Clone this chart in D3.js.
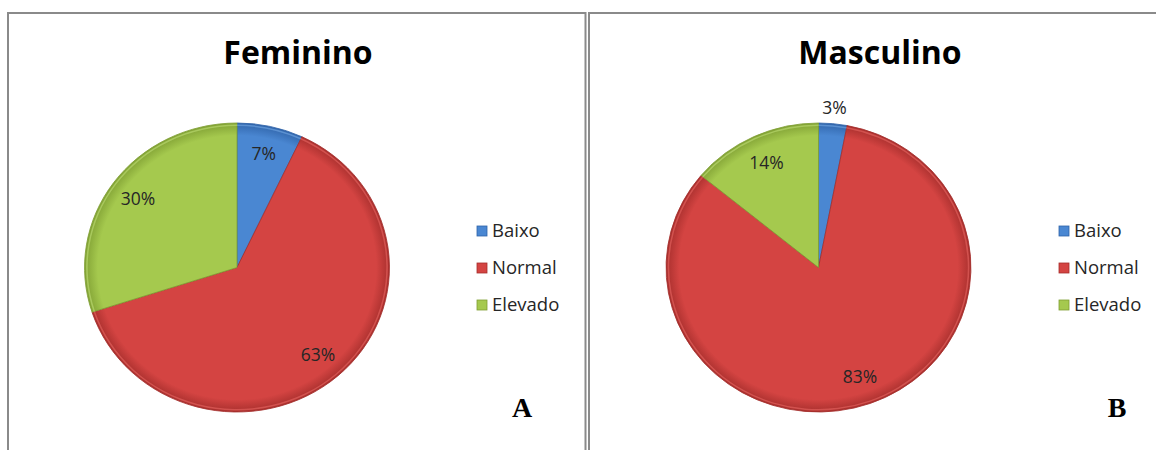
<!DOCTYPE html>
<html>
<head>
<meta charset="utf-8">
<script src="https://cdn.jsdelivr.net/npm/d3@7"></script>
<style>
  body { margin: 0; background: #fff; }
  svg { display: block; }
</style>
</head>
<body>
<div id="chart"></div>
<script>
const categories = ["Baixo", "Normal", "Elevado"];
const femininoValues = [7, 63, 30];
const masculinoValues = [3, 83, 14];
const panelTitles = ["Feminino", "Masculino"];
const panelLetters = ["A", "B"];

const colors = {
    Baixo: { light: "#7aaeea", base: "#4a87d2", dark: "#2f63a8" },
    Normal: { light: "#ec6a66", base: "#d44442", dark: "#a52e2c" },
    Elevado: { light: "#c2e27a", base: "#a5c94e", dark: "#7f9f33" }
};

const W = 1156, H = 450;
const svg = d3.select("#chart").append("svg")
    .attr("width", W)
    .attr("height", H);

const defs = svg.append("defs");
categories.forEach(c => {
    const g = defs.append("radialGradient")
        .attr("id", "grad-" + c)
        .attr("gradientUnits", "userSpaceOnUse")
        .attr("cx", 0).attr("cy", 0).attr("r", 150);
    g.append("stop").attr("offset", "0%").attr("stop-color", colors[c].base);
    g.append("stop").attr("offset", "88%").attr("stop-color", colors[c].base);
    g.append("stop").attr("offset", "97%").attr("stop-color", colors[c].dark);
    g.append("stop").attr("offset", "100%").attr("stop-color", colors[c].dark);
});

// panel frames
svg.append("path")
    .attr("d", "M8,455 V13 H585.5 V455")
    .attr("fill", "none").attr("stroke", "#8a8a8a").attr("stroke-width", 2);
svg.append("path")
    .attr("d", "M589,455 V13 H1160")
    .attr("fill", "none").attr("stroke", "#8a8a8a").attr("stroke-width", 2);

const panels = [
    { values: femininoValues, cx: 237, cy: 267.5, titleX: 298, legendX: 477, letterX: 522 },
    { values: masculinoValues, cx: 818.5, cy: 267.5, titleX: 880, legendX: 1059, letterX: 1117 }
];

const radius = 144.5;
const sx = 1.055; // slight horizontal stretch seen in the reference

const pie = d3.pie().sort(null).value(d => d.value);
const arc = d3.arc().innerRadius(0).outerRadius(radius);
const rimArc = d3.arc().innerRadius(radius - 3).outerRadius(radius - 1.5);

panels.forEach((p, i) => {
    const data = categories.map((c, j) => ({ key: c, value: p.values[j] }));
    const total = d3.sum(data, d => d.value);
    const arcs = pie(data);

    const g = svg.append("g");

    g.append("text")
        .attr("x", p.titleX)
        .attr("y", 64)
        .attr("text-anchor", "middle")
        .style("font-family", "'Open Sans', sans-serif")
        .style("font-weight", "bold")
        .style("font-size", "32px")
        .attr("fill", "#000")
        .text(panelTitles[i]);

    const pieG = g.append("g")
        .attr("transform", "translate(" + p.cx + "," + p.cy + ") scale(" + sx + ",1)");

    pieG.selectAll("path.slice")
        .data(arcs)
        .enter()
        .append("path")
        .attr("class", "slice")
        .attr("d", arc)
        .attr("fill", d => "url(#grad-" + d.data.key + ")")
        .attr("stroke", d => colors[d.data.key].dark)
        .attr("stroke-width", 0.8)
        .attr("stroke-linejoin", "round");

    // soft bevel highlight along the rim
    pieG.selectAll("path.rim")
        .data(arcs)
        .enter()
        .append("path")
        .attr("class", "rim")
        .attr("d", rimArc)
        .attr("fill", d => colors[d.data.key].light)
        .attr("opacity", 0.55);

    // labels
    g.selectAll("text.lbl")
        .data(arcs)
        .enter()
        .append("text")
        .attr("class", "lbl")
        .attr("transform", d => {
            const share = d.data.value / total;
            const r = share < 0.05 ? 160 : 116;
            const a = (d.startAngle + d.endAngle) / 2;
            const x = p.cx + Math.sin(a) * r * sx;
            const y = p.cy - Math.cos(a) * r;
            return "translate(" + x + "," + y + ")";
        })
        .attr("text-anchor", "middle")
        .attr("dy", "0.35em")
        .style("font-family", "'Open Sans', sans-serif")
        .style("font-size", "17.5px")
        .attr("fill", "#262626")
        .text(d => Math.round(d.data.value / total * 100) + "%");

    // legend
    const leg = g.selectAll("g.leg")
        .data(categories)
        .enter()
        .append("g")
        .attr("class", "leg")
        .attr("transform", (c, j) => "translate(" + p.legendX + "," + (231 + j * 37) + ")");
    leg.append("rect")
        .attr("x", 0).attr("y", -5)
        .attr("width", 10).attr("height", 10)
        .attr("fill", c => colors[c].base)
        .attr("stroke", c => colors[c].dark)
        .attr("stroke-width", 0.8);
    leg.append("text")
        .attr("x", 15)
        .attr("dy", "0.35em")
        .style("font-family", "'Open Sans', sans-serif")
        .style("font-size", "18.5px")
        .attr("fill", "#262626")
        .text(c => c);

    g.append("text")
        .attr("x", p.letterX)
        .attr("y", 417)
        .attr("text-anchor", "middle")
        .style("font-family", "'Liberation Serif', serif")
        .style("font-weight", "bold")
        .style("font-size", "28px")
        .attr("fill", "#000")
        .text(panelLetters[i]);
});
</script>
</body>
</html>
